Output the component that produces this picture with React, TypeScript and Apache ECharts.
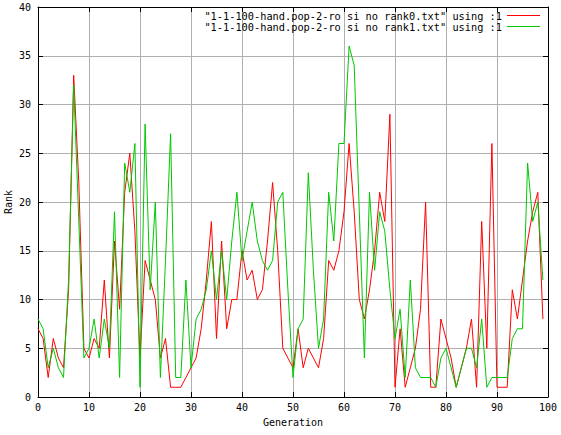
import React, { useEffect, useRef } from "react";
import * as echarts from "echarts";

const seriesNames = [
  '"1-1-100-hand.pop-2-ro si no rank0.txt" using :1',
  '"1-1-100-hand.pop-2-ro si no rank1.txt" using :1',
];

const rank0 = [
  7, 6, 2, 6, 4, 3, 11, 33, 22, 5,
  4, 6, 5, 12, 4, 16, 9, 21, 25, 17,
  4, 14, 12, 10, 4, 6, 1, 1, 1, 2,
  3, 4, 7, 12, 18, 6, 16, 7, 10, 10,
  15, 12, 13, 10, 11, 16, 22, 15, 5, 4,
  3, 7, 3, 5, 4, 3, 6, 14, 13, 15,
  19, 26, 19, 10, 8, 11, 15, 21, 18, 29,
  1, 7, 1, 3, 5, 9, 20, 1, 1, 8,
  6, 4, 1, 3, 5, 8, 1, 18, 5, 26,
  1, 1, 1, 11, 8, 12, 16, 19, 21, 8,
];

const rank1 = [
  8, 7, 3, 5, 3, 2, 12, 32, 18, 4,
  5, 8, 4, 8, 5, 19, 2, 24, 21, 26,
  1, 28, 11, 20, 2, 14, 27, 2, 2, 12,
  3, 8, 9, 11, 15, 10, 15, 10, 16, 21,
  14, 17, 20, 16, 14, 13, 14, 20, 21, 11,
  2, 7, 8, 23, 13, 5, 8, 21, 16, 26,
  26, 36, 34, 19, 4, 21, 13, 19, 17, 11,
  6, 9, 2, 12, 3, 2, 2, 2, 1, 4,
  5, 3, 1, 3, 5, 5, 3, 8, 1, 2,
  2, 2, 2, 6, 7, 7, 24, 18, 20, 12,
];

const colors = ["#ff0000", "#00c800"];
const FONT = "'DejaVu Sans Mono', monospace";

export default function App() {
  const ref = useRef<HTMLDivElement>(null);
  useEffect(() => {
    if (!ref.current) return;
    const chart = echarts.init(ref.current, null, { renderer: "svg" });
    const gridColor = "#b0b0b0";
    const baseAxis = {
      type: "value" as const,
      axisLine: { show: true, onZero: false, lineStyle: { color: "#000", width: 1 } },
      axisTick: { show: true, inside: true, length: 5, lineStyle: { color: "#000" } },
    };
    chart.setOption({
      animation: false,
      backgroundColor: "#ffffff",
      color: colors,
      grid: { left: 38, right: 13, top: 7, bottom: 38, containLabel: false, outerBoundsMode: "none" },
      legend: {
        orient: "vertical",
        right: 21,
        top: 10,
        padding: 0,
        align: "right",
        icon: "rect",
        itemWidth: 33,
        itemHeight: 1,
        itemGap: 0,
        textStyle: { fontFamily: FONT, fontSize: 10.3, lineHeight: 11, color: "#000" },
        data: seriesNames,
      },
      xAxis: [
        {
          ...baseAxis,
          position: "bottom",
          min: 0,
          max: 100,
          interval: 10,
          name: "Generation",
          nameLocation: "middle",
          nameGap: 20,
          nameMoveOverlap: false,
          nameTextStyle: { fontFamily: FONT, fontSize: 10, color: "#000" },
          axisLabel: { fontFamily: FONT, fontSize: 10, color: "#000", margin: 5 },
          splitLine: { show: true, lineStyle: { color: gridColor, width: 1 } },
        },
        {
          ...baseAxis,
          position: "top",
          min: 0,
          max: 100,
          interval: 10,
          axisLabel: { show: false },
          splitLine: { show: false },
        },
      ],
      yAxis: [
        {
          ...baseAxis,
          position: "left",
          min: 0,
          max: 40,
          interval: 5,
          name: "Rank",
          nameLocation: "middle",
          nameRotate: 90,
          nameGap: 25,
          nameMoveOverlap: false,
          nameTextStyle: { fontFamily: FONT, fontSize: 10, color: "#000" },
          axisLabel: { fontFamily: FONT, fontSize: 10, color: "#000", margin: 7 },
          splitLine: { show: true, lineStyle: { color: gridColor, width: 1 } },
        },
        {
          ...baseAxis,
          position: "right",
          min: 0,
          max: 40,
          interval: 5,
          axisLabel: { show: false },
          splitLine: { show: false },
        },
      ],
      series: [
        {
          name: seriesNames[0],
          type: "line",
          xAxisIndex: 0,
          yAxisIndex: 0,
          showSymbol: false,
          symbol: "none",
          lineStyle: { width: 1, color: colors[0] },
          data: rank0.map((v, i) => [i, v]),
        },
        {
          name: seriesNames[1],
          type: "line",
          xAxisIndex: 0,
          yAxisIndex: 0,
          showSymbol: false,
          symbol: "none",
          lineStyle: { width: 1, color: colors[1] },
          data: rank1.map((v, i) => [i, v]),
        },
      ],
    });
    return () => chart.dispose();
  }, []);
  return (
    <div
      ref={ref}
      style={{ position: "absolute", left: 0, top: 0, width: 561, height: 435, background: "#fff" }}
    />
  );
}
